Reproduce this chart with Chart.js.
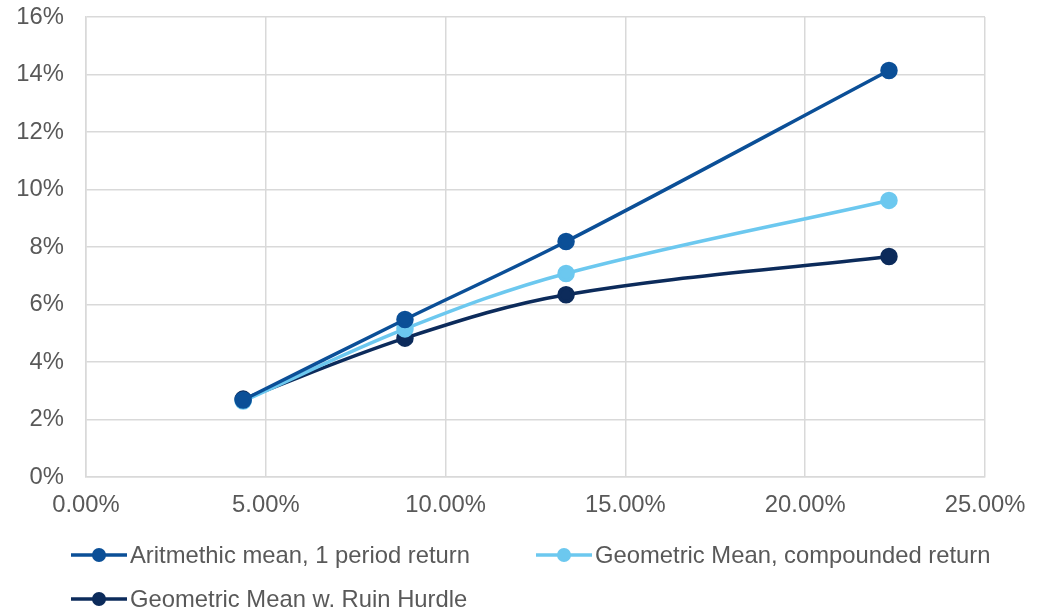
<!DOCTYPE html>
<html>
<head>
<meta charset="utf-8">
<script src="https://cdn.jsdelivr.net/npm/chart.js@4/dist/chart.umd.min.js"></script>
<style>
  html, body { margin: 0; padding: 0; background: #ffffff; }
  #wrap { width: 1042px; height: 611px; position: relative; }
</style>
</head>
<body>
<div id="wrap"><canvas id="c" width="1042" height="611"></canvas></div>
<script>
// Risk (x, %) and return (y, %) for each series
const riskLevels = [4.37, 8.87, 13.35, 22.33];
const arithmeticMean = [2.68, 5.48, 8.19, 14.14];
const geometricMean = [2.64, 5.15, 7.08, 9.62];
const ruinHurdleMean = [2.71, 4.83, 6.34, 7.67];

const seriesNames = [
  'Aritmethic mean, 1 period return',
  'Geometric Mean, compounded return',
  'Geometric Mean w. Ruin Hurdle'
];
const seriesColors = ['#0B4F97', '#6CC8EF', '#0C2B5B'];

const textColor = '#595959';
const gridColor = '#d9d9d9';
const fontFamily = '"Liberation Sans", Arial, sans-serif';
const fontSize = 23.8;

function toPoints(ys) {
  return riskLevels.map((x, i) => ({ x: x, y: ys[i] }));
}

const seriesValues = [arithmeticMean, geometricMean, ruinHurdleMean];

const datasets = seriesValues.map((vals, i) => ({
  label: seriesNames[i],
  data: toPoints(vals),
  borderColor: seriesColors[i],
  backgroundColor: seriesColors[i],
  pointBackgroundColor: seriesColors[i],
  pointBorderColor: seriesColors[i],
  borderWidth: 3.5,
  pointRadius: 7,
  pointHoverRadius: 7,
  showLine: true,
  tension: 0.35,
  fill: false
}));

// Legend drawn as line-with-marker entries below the plot
const legendPlugin = {
  id: 'lineMarkerLegend',
  afterDraw(chart) {
    const ctx = chart.ctx;
    const positions = [[71, 555], [536, 555], [71, 599]];
    ctx.save();
    ctx.font = fontSize + 'px ' + fontFamily;
    ctx.textBaseline = 'middle';
    ctx.textAlign = 'left';
    chart.data.datasets.forEach((ds, i) => {
      const [lx, ly] = positions[i];
      ctx.strokeStyle = ds.borderColor;
      ctx.lineWidth = 3.5;
      ctx.beginPath();
      ctx.moveTo(lx, ly);
      ctx.lineTo(lx + 56, ly);
      ctx.stroke();
      ctx.fillStyle = ds.borderColor;
      ctx.beginPath();
      ctx.arc(lx + 28, ly, 7, 0, Math.PI * 2);
      ctx.fill();
      ctx.fillStyle = textColor;
      ctx.fillText(ds.label, lx + 59, ly + 1);
    });
    ctx.restore();
  }
};

new Chart(document.getElementById('c'), {
  type: 'scatter',
  data: { datasets: datasets },
  plugins: [legendPlugin],
  options: {
    responsive: false,
    animation: false,
    devicePixelRatio: 1,
    layout: { padding: { left: 0, right: 57, top: 17, bottom: 0 } },
    plugins: {
      legend: { display: false },
      tooltip: { enabled: false }
    },
    scales: {
      x: {
        type: 'linear',
        min: 0,
        max: 25,
        afterFit(scale) { scale.height = 134; },
        ticks: {
          stepSize: 5,
          color: textColor,
          padding: 14,
          font: { family: fontFamily, size: fontSize },
          callback: (v) => v.toFixed(2) + '%'
        },
        grid: { color: gridColor, lineWidth: 1.5, drawTicks: false },
        border: { color: gridColor, width: 1.5 }
      },
      y: {
        type: 'linear',
        min: 0,
        max: 16,
        afterFit(scale) {
          scale.width = 86;
          scale.paddingTop = 0;
          scale.paddingBottom = 0;
        },
        ticks: {
          stepSize: 2,
          color: textColor,
          padding: 22,
          font: { family: fontFamily, size: fontSize },
          callback: (v) => v + '%'
        },
        grid: { color: gridColor, lineWidth: 1.5, drawTicks: false },
        border: { color: gridColor, width: 1.5 }
      }
    }
  }
});
</script>
</body>
</html>
